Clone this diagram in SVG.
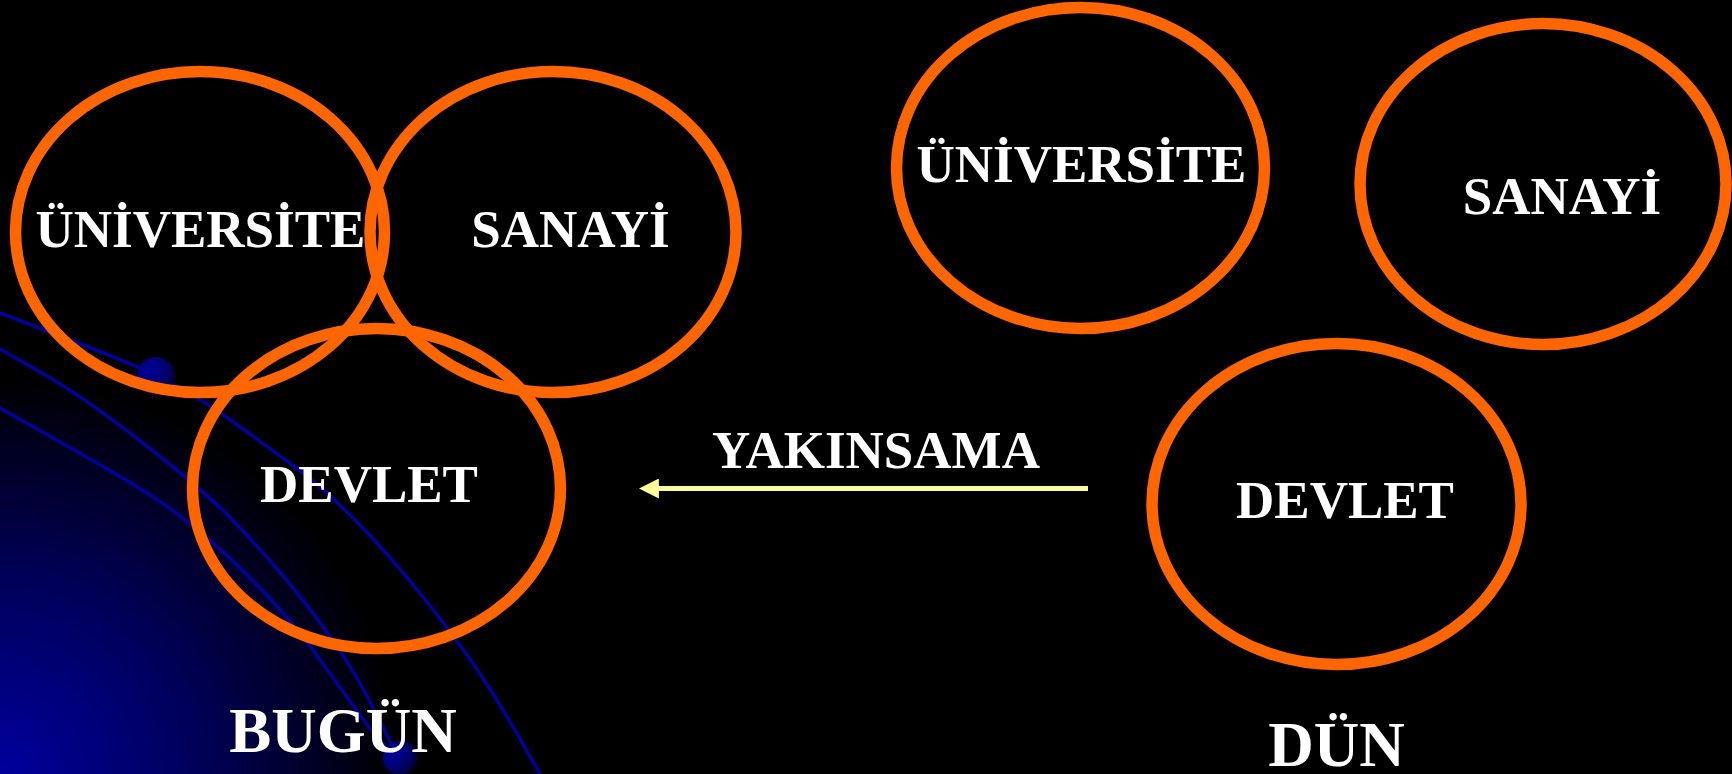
<svg xmlns="http://www.w3.org/2000/svg" width="1732" height="774" viewBox="0 0 1732 774">
  <defs>
    <radialGradient id="glow" gradientUnits="userSpaceOnUse" cx="0" cy="774" r="400">
      <stop offset="0" stop-color="#00009E"/>
      <stop offset="0.5" stop-color="#000058"/>
      <stop offset="1" stop-color="#000000"/>
    </radialGradient>
    <radialGradient id="ball" cx="0.3" cy="0.35" r="0.75">
      <stop offset="0" stop-color="#00009A"/>
      <stop offset="0.6" stop-color="#000070"/>
      <stop offset="1" stop-color="#000030"/>
    </radialGradient>
    <marker id="arrowhead" markerUnits="userSpaceOnUse" markerWidth="20" markerHeight="20" viewBox="0 0 18 18" refX="8" refY="9" orient="auto">
      <polygon points="0,0 18,9 0,18" fill="#FFFF99"/>
    </marker>
    <style>
      .ring { fill: none; stroke: #FF6600; stroke-width: 11.5; }
      .lbl { font-family: "Liberation Serif", "Times New Roman", serif; font-weight: bold; font-size: 53px; fill: #FFFFFF; text-anchor: middle; }
      .big { font-size: 63px; }
      .orbit { fill: none; stroke: #00009A; stroke-width: 3.5; stroke-linecap: round; stroke-linejoin: round; }
    </style>
  </defs>

  <rect x="0" y="0" width="1732" height="774" fill="#000000"/>
  <rect x="0" y="300" width="500" height="474" fill="url(#glow)"/>

  <g id="decor">
    <path class="orbit" d="M0,313 L68,339 Q136,365 167.5,381 Q199,397 233.5,422 Q268,447 297,468.5 Q326,490 358.5,523.5 Q391,557 421.5,595 Q452,633 475,666.5 Q498,700 519,737 L540,774"/>
    <path class="orbit" d="M0,349 L42,373 Q84,397 145.5,445 Q207,493 234,521.5 Q261,550 283.5,576.5 Q306,603 329,635 Q352,667 367.5,697 Q383,727 398,757"/>
    <path class="orbit" d="M0,408 L46,434 Q92,460 128.5,481.5 Q165,503 195.5,528 Q226,553 258.5,586.5 Q291,620 314,651.5 Q337,683 360,715 Q383,747 398,757"/>
    <circle cx="156" cy="376" r="19" fill="url(#ball)"/>
    <circle cx="400" cy="758" r="17" fill="url(#ball)"/>
  </g>

  <g id="bugun-universite">
    <ellipse class="ring" cx="200" cy="232" rx="184.5" ry="160.5"/>
    <text class="lbl" x="200.5" y="247">ÜNİVERSİTE</text>
  </g>
  <g id="bugun-sanayi">
    <ellipse class="ring" cx="553" cy="232" rx="183" ry="160.5"/>
    <text class="lbl" x="570.5" y="247">SANAYİ</text>
  </g>
  <g id="bugun-devlet">
    <ellipse class="ring" cx="376.5" cy="488.5" rx="184" ry="160"/>
    <text class="lbl" x="369" y="502">DEVLET</text>
  </g>
  <g id="bugun-label">
    <text class="lbl big" x="343" y="752">BUGÜN</text>
  </g>

  <g id="dun-universite">
    <ellipse class="ring" cx="1080.5" cy="168" rx="184" ry="160.5"/>
    <text class="lbl" x="1081.5" y="182">ÜNİVERSİTE</text>
  </g>
  <g id="dun-sanayi">
    <ellipse class="ring" cx="1543" cy="184" rx="183" ry="160.5"/>
    <text class="lbl" x="1562" y="214">SANAYİ</text>
  </g>
  <g id="dun-devlet">
    <ellipse class="ring" cx="1336.5" cy="504" rx="184.5" ry="160.5"/>
    <text class="lbl" x="1345" y="518">DEVLET</text>
  </g>
  <g id="dun-label">
    <text class="lbl big" x="1336.5" y="766">DÜN</text>
  </g>

  <g id="connectors">
    <line x1="1088" y1="488.5" x2="650" y2="488.5" stroke="#FFFF99" stroke-width="5" marker-end="url(#arrowhead)"/>
    <text class="lbl" x="876" y="468">YAKINSAMA</text>
  </g>
</svg>
